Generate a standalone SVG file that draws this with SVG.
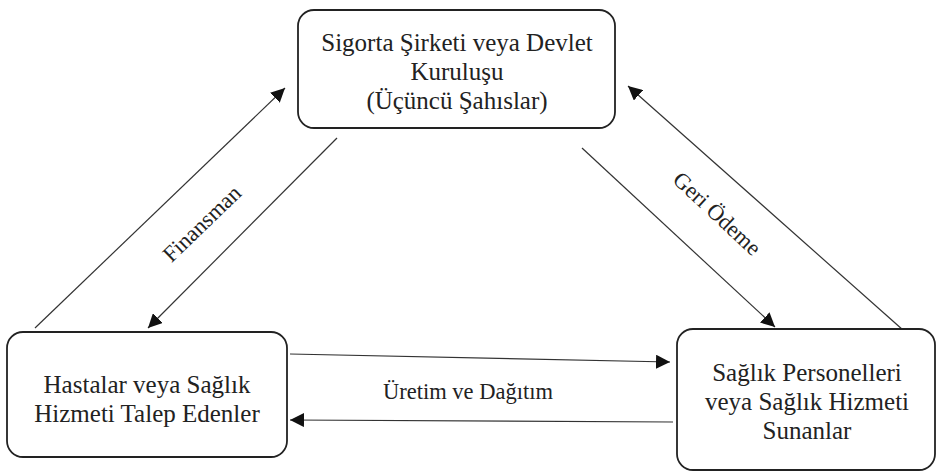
<svg xmlns="http://www.w3.org/2000/svg" width="937" height="472" viewBox="0 0 937 472">
<style>
.box{fill:#fff;stroke:#222;stroke-width:1.8}
.t{font-family:'Liberation Serif','Times New Roman','DejaVu Serif',serif;font-size:25px;fill:#222;text-anchor:middle}
.l{font-family:'Liberation Serif','Times New Roman','DejaVu Serif',serif;font-size:22.5px;fill:#222;text-anchor:middle}
.c{stroke:#333;stroke-width:1.2;fill:none;marker-end:url(#ah)}
</style>
<defs>
<marker id="ah" viewBox="0 0 10 10" refX="10" refY="5" markerWidth="14" markerHeight="14" markerUnits="userSpaceOnUse" orient="auto">
<path d="M0,0 L10,5 L0,10 z" fill="#111"/>
</marker>
</defs>
<rect width="937" height="472" fill="#fff"/>
<g id="connectors">
<line class="c" x1="35" y1="328" x2="285" y2="88"/>
<line class="c" x1="337" y1="138" x2="148" y2="328"/>
<line class="c" x1="582" y1="148" x2="775" y2="327"/>
<line class="c" x1="903" y1="330" x2="628" y2="86"/>
<line class="c" x1="290" y1="354" x2="670" y2="362"/>
<line class="c" x1="673" y1="422" x2="290" y2="420"/>
<text class="l" transform="translate(207,229) rotate(-44)">Finansman</text>
<text class="l" transform="translate(712,219) rotate(43)">Geri Ödeme</text>
<text class="l" x="468" y="399">Üretim ve Dağıtım</text>
</g>
<g id="node-top">
<rect class="box" x="298" y="10" width="317" height="118" rx="16"/>
<text class="t" x="457" y="51">Sigorta Şirketi veya Devlet</text>
<text class="t" x="457" y="80">Kuruluşu</text>
<text class="t" x="457" y="109">(Üçüncü Şahıslar)</text>
</g>
<g id="node-left">
<rect class="box" x="7" y="332" width="280" height="125" rx="16"/>
<text class="t" x="147" y="393">Hastalar veya Sağlık</text>
<text class="t" x="147" y="422">Hizmeti Talep Edenler</text>
</g>
<g id="node-right">
<rect class="box" x="677" y="329" width="258" height="141" rx="16"/>
<text class="t" x="807" y="381">Sağlık Personelleri</text>
<text class="t" x="807" y="410">veya Sağlık Hizmeti</text>
<text class="t" x="807" y="439">Sunanlar</text>
</g>
</svg>
